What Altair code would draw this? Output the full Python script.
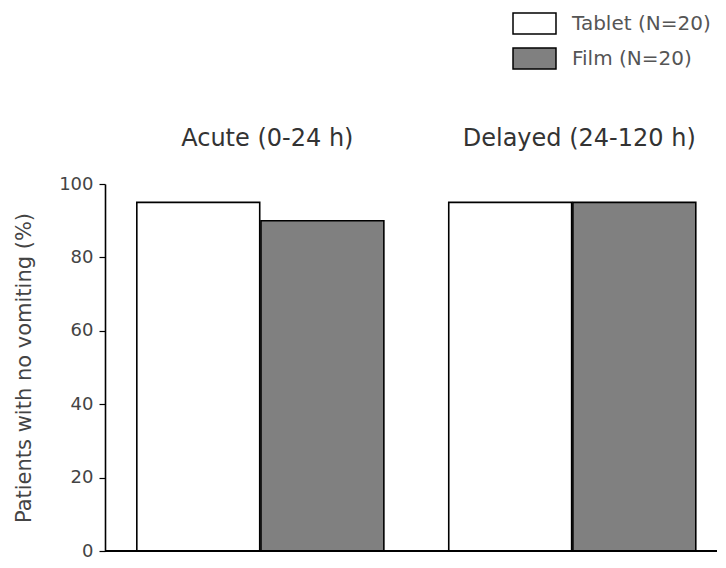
import altair as alt
import pandas as pd

groups = ["Acute (0-24 h)", "Acute (0-24 h)", "Delayed (24-120 h)", "Delayed (24-120 h)"]
series = ["Tablet (N=20)", "Film (N=20)", "Tablet (N=20)", "Film (N=20)"]
values = [95, 90, 95, 95]

df = pd.DataFrame({"group": groups, "series": series, "value": values})

FONT = "DejaVu Sans"

bars = alt.Chart(df).mark_bar(stroke="black", strokeWidth=1.6).encode(
    x=alt.X("group:N", sort=["Acute (0-24 h)", "Delayed (24-120 h)"],
            scale=alt.Scale(paddingInner=0.208, paddingOuter=0.085, align=0.6),
            axis=alt.Axis(orient="top", title=None, domain=False, ticks=False,
                          labelAngle=0, labelFontSize=24, labelColor="#333333",
                          labelFont=FONT, labelPadding=34, labelLimit=500, labelOffset=7)),
    xOffset=alt.XOffset("series:N", sort=["Tablet (N=20)", "Film (N=20)"],
                        scale=alt.Scale(paddingInner=0.01, paddingOuter=0)),
    y=alt.Y("value:Q", scale=alt.Scale(domain=[0, 100]),
            axis=alt.Axis(title="Patients with no vomiting (%)", values=[0, 20, 40, 60, 80, 100],
                          grid=False, tickSize=6, tickColor="black", domainColor="black",
                          domainWidth=1.6, tickWidth=1.2, labelFontSize=18, labelColor="#444444",
                          labelFont=FONT, labelPadding=6, titleFont=FONT, titleFontSize=21,
                          titleFontWeight="normal", titleColor="#444444", titleX=-71)),
    fill=alt.Fill("series:N", sort=["Tablet (N=20)", "Film (N=20)"],
                  scale=alt.Scale(domain=["Tablet (N=20)", "Film (N=20)"], range=["white", "#808080"]),
                  legend=alt.Legend(title=None, orient="none", legendX=418, legendY=-172,
                                    symbolType="M-2,-0.98H2V0.98H-2Z", symbolSize=462,
                                    symbolStrokeColor="black", symbolStrokeWidth=1.5,
                                    symbolOpacity=1, labelFont=FONT, labelFontSize=20,
                                    labelColor="#555555", labelOffset=26, rowPadding=6,
                                    labelLimit=400, padding=0)),
)

baseline = alt.Chart(df).mark_rule(color="black", strokeWidth=1.6).encode(
    y=alt.datum(0)
)

chart = alt.layer(bars, baseline).properties(
    width=612, height=367,
    padding={"left": 97, "top": 176, "right": 0, "bottom": 9},
    autosize=alt.AutoSizeParams(type="none"),
).configure_view(stroke=None)

chart.save("out.html", embed_options={"renderer": "svg", "actions": False})
